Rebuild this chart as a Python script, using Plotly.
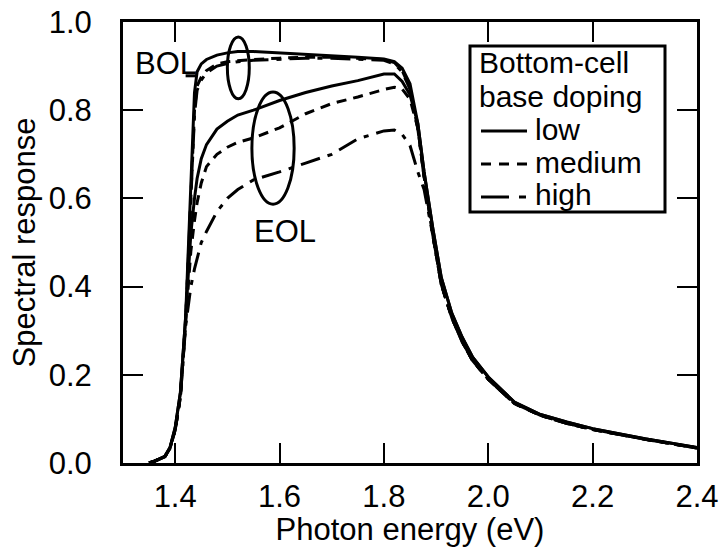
import plotly.graph_objects as go

energy = [1.35, 1.36, 1.38, 1.39, 1.40, 1.41, 1.42, 1.43, 1.437, 1.442, 1.45, 1.46,
          1.48, 1.50, 1.52, 1.55, 1.60, 1.65, 1.70, 1.75, 1.80, 1.82, 1.835, 1.85,
          1.865, 1.877, 1.894, 1.91, 1.93, 1.95, 1.97, 2.00, 2.05, 2.10, 2.15, 2.20,
          2.30, 2.40]

bol_low = [0.0, 0.004, 0.015, 0.035, 0.08, 0.16, 0.33, 0.62, 0.84, 0.887, 0.905, 0.915,
           0.925, 0.930, 0.933, 0.933, 0.930, 0.927, 0.923, 0.920, 0.916, 0.910, 0.895, 0.860,
           0.770, 0.660, 0.530, 0.420, 0.340, 0.285, 0.240, 0.195, 0.138, 0.110, 0.093, 0.078,
           0.055, 0.035]
bol_medium = [0.0, 0.004, 0.014, 0.033, 0.075, 0.15, 0.32, 0.60, 0.80, 0.855, 0.875, 0.890,
              0.905, 0.910, 0.912, 0.915, 0.918, 0.920, 0.920, 0.918, 0.915, 0.908, 0.890, 0.850,
              0.760, 0.650, 0.515, 0.405, 0.330, 0.275, 0.232, 0.190, 0.135, 0.108, 0.090, 0.076,
              0.054, 0.034]
bol_high = [0.0, 0.004, 0.014, 0.033, 0.075, 0.15, 0.32, 0.59, 0.79, 0.845, 0.868, 0.885,
            0.900, 0.906, 0.910, 0.913, 0.916, 0.918, 0.918, 0.916, 0.913, 0.905, 0.887, 0.848,
            0.758, 0.648, 0.515, 0.405, 0.330, 0.275, 0.232, 0.190, 0.135, 0.108, 0.090, 0.076,
            0.054, 0.034]
eol_low = [0.0, 0.004, 0.015, 0.035, 0.08, 0.16, 0.33, 0.52, 0.60, 0.645, 0.690, 0.722,
           0.757, 0.775, 0.789, 0.800, 0.822, 0.840, 0.855, 0.867, 0.882, 0.882, 0.865, 0.835,
           0.770, 0.660, 0.530, 0.420, 0.340, 0.285, 0.240, 0.195, 0.138, 0.110, 0.093, 0.078,
           0.055, 0.035]
eol_medium = [0.0, 0.004, 0.014, 0.033, 0.075, 0.15, 0.32, 0.48, 0.55, 0.590, 0.635, 0.672,
              0.700, 0.716, 0.727, 0.737, 0.760, 0.792, 0.815, 0.830, 0.847, 0.852, 0.848, 0.825,
              0.760, 0.650, 0.515, 0.405, 0.330, 0.275, 0.232, 0.190, 0.135, 0.108, 0.090, 0.076,
              0.054, 0.034]
eol_high = [0.0, 0.004, 0.014, 0.033, 0.075, 0.15, 0.31, 0.40, 0.44, 0.465, 0.500, 0.525,
            0.570, 0.600, 0.620, 0.642, 0.660, 0.680, 0.700, 0.735, 0.753, 0.755, 0.745, 0.720,
            0.660, 0.620, 0.515, 0.405, 0.330, 0.275, 0.232, 0.190, 0.135, 0.108, 0.090, 0.076,
            0.054, 0.034]

x_ticks = [1.4, 1.6, 1.8, 2.0, 2.2, 2.4]
x_tick_labels = ["1.4", "1.6", "1.8", "2.0", "2.2", "2.4"]
y_ticks = [0.0, 0.2, 0.4, 0.6, 0.8, 1.0]
y_tick_labels = ["0.0", "0.2", "0.4", "0.6", "0.8", "1.0"]

legend_title = ["Bottom-cell", "base doping"]
legend_names = ["low", "medium", "high"]

FONT = "Liberation Sans, Arial, Helvetica, sans-serif"
FS = 31
LFS = 30
SOLID = "solid"
DASH = "10px,7px"
DASHDOT = "20px,8px,5px,8px"
LEGEND_DASH = ["solid", "10px,8px", "28px,10px,7px,50px"]

fig = go.Figure()
series = [
    (bol_low, SOLID, "BOL low"),
    (bol_medium, DASH, "BOL medium"),
    (bol_high, DASHDOT, "BOL high"),
    (eol_low, SOLID, "EOL low"),
    (eol_medium, DASH, "EOL medium"),
    (eol_high, DASHDOT, "EOL high"),
]
for ys, dash, name in series:
    fig.add_trace(go.Scatter(
        x=energy, y=ys, mode="lines", name=name, showlegend=False,
        line=dict(color="black", width=3, dash=dash),
    ))

axis_common = dict(
    showgrid=False, zeroline=False, showline=True, linecolor="black", linewidth=3,
    mirror="ticks", ticks="inside", ticklen=20, tickwidth=2, tickcolor="black",
    tickfont=dict(family=FONT, size=FS, color="black"), automargin=False,
)
fig.update_xaxes(range=[1.3, 2.4], tickvals=x_ticks, ticktext=x_tick_labels,
                 ticklabelstandoff=4,
                 title=dict(text="Photon energy (eV)", font=dict(family=FONT, size=FS, color="black"),
                            standoff=4),
                 **axis_common)
fig.update_yaxes(range=[0.0, 1.0], tickvals=y_ticks, ticktext=y_tick_labels,
                 ticklabelstandoff=22,
                 title=dict(text="Spectral response", font=dict(family=FONT, size=FS, color="black"),
                            standoff=4),
                 **axis_common)

# Ellipses grouping BOL and EOL curves
fig.add_shape(type="circle", xref="x", yref="y", x0=1.500, x1=1.542, y0=0.826, y1=0.966,
              line=dict(color="black", width=3))
fig.add_shape(type="circle", xref="x", yref="y", x0=1.547, x1=1.628, y0=0.587, y1=0.841,
              line=dict(color="black", width=3))
# leader from BOL label to the curve
fig.add_shape(type="line", xref="x", yref="y", x0=1.42, x1=1.441, y0=0.878, y1=0.878,
              line=dict(color="black", width=3))

fig.add_annotation(x=1.383, y=0.905, text="BOL", showarrow=False, xref="x", yref="y",
                   font=dict(family=FONT, size=FS, color="black"))
fig.add_annotation(x=1.610, y=0.524, text="EOL", showarrow=False, xref="x", yref="y",
                   font=dict(family=FONT, size=FS, color="black"))

# Manual legend box (pixel -> paper conversion for plot area 123..697 x, 22..463 y)
def px(xp):
    return (xp - 123) / 574.0

def py(yp):
    return (463 - yp) / 441.0

fig.add_shape(type="rect", xref="paper", yref="paper",
              x0=px(470), x1=px(665), y0=py(212), y1=py(46),
              line=dict(color="black", width=3), fillcolor="white", layer="above")
title_rows = [63, 96]
for txt, yp in zip(legend_title, title_rows):
    fig.add_annotation(x=px(478), y=py(yp), xref="paper", yref="paper", text=txt,
                       showarrow=False, xanchor="left", yanchor="middle", borderpad=0,
                       font=dict(family=FONT, size=LFS, color="black"))
item_rows = [129, 162, 195]
for name, dash, yp in zip(legend_names, LEGEND_DASH, item_rows):
    fig.add_shape(type="line", xref="paper", yref="paper",
                  x0=px(481), x1=px(527), y0=py(yp + 2), y1=py(yp + 2),
                  line=dict(color="black", width=3, dash=dash), layer="above")
    fig.add_annotation(x=px(534), y=py(yp), xref="paper", yref="paper", text=name,
                       showarrow=False, xanchor="left", yanchor="middle", borderpad=0,
                       font=dict(family=FONT, size=LFS, color="black"))

fig.update_layout(
    width=721, height=547,
    margin=dict(l=123, r=24, t=22, b=84),
    paper_bgcolor="white", plot_bgcolor="white",
    font=dict(family=FONT, size=FS, color="black"),
    showlegend=False,
)

fig.write_html("out.html")
